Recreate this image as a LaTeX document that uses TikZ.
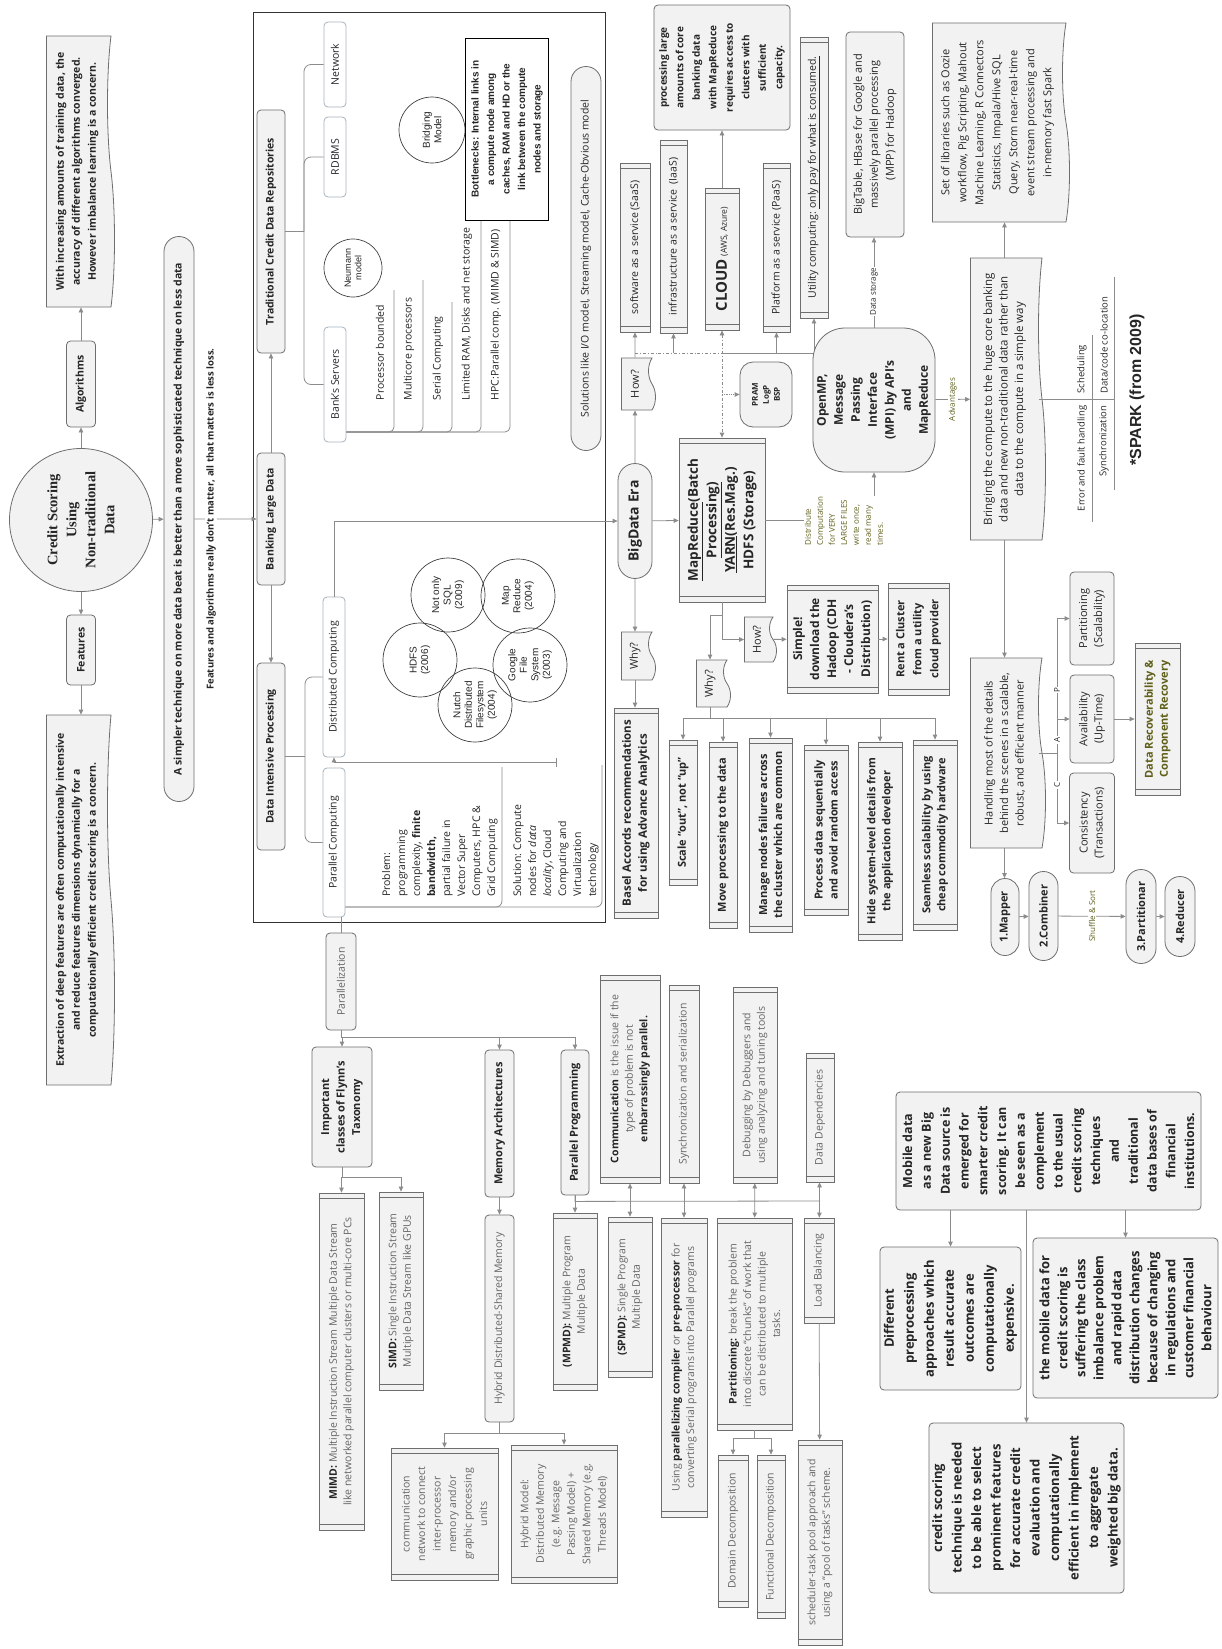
\documentclass[tikz,border=0pt]{standalone}
\usepackage{fontspec}
\setmainfont{Open Sans}
\newfontfamily\serifbold{Liberation Serif}
\newfontfamily\arial{Liberation Sans}
\usetikzlibrary{arrows.meta,shapes.misc,shapes.symbols,calc}
\definecolor{bd}{HTML}{6E6E6E}
\definecolor{fl}{HTML}{F2F2F2}
\definecolor{ln}{HTML}{8C8C8C}
\definecolor{sb}{HTML}{A7B3BE}
\definecolor{gt}{HTML}{666666}
\definecolor{tx}{HTML}{262626}
\definecolor{ol}{HTML}{5F5F1A}
\newcommand{\fsz}[2]{\fontsize{#1}{#2}\selectfont}

\begin{document}
\begin{tikzpicture}[x=1pt, y=-1pt,
	every node/.style={rotate=90, inner sep=1.5pt, text=tx, align=center,
		font=\fsz{10.5}{14.5}},
	wh/.style 2 args={minimum height=#1pt, minimum width=#2pt},
	box/.style={rectangle, rounded corners=4pt, draw=bd, fill=fl, line width=0.8pt},
	sub/.style={rectangle, rounded corners=4pt, draw=sb, fill=white, line width=0.8pt},
	pill/.style={rounded rectangle, draw=bd, fill=fl, line width=0.8pt},
	pbox/.style={rectangle, draw=bd, fill=fl, line width=0.8pt},
	doc/.style={tape, tape bend top=none, tape bend bottom=in and out,
		tape bend height=7pt, draw=bd, fill=fl, line width=0.8pt},
	ring/.style={circle, draw=black!75, line width=0.7pt},
	note/.style={fill=white, inner sep=1pt},
	gtext/.style={text=gt},
	line/.style={draw=ln, line width=0.8pt},
	arr/.style={line, -{Triangle[length=5pt,width=4.5pt]}},
	arr2/.style={line, {Triangle[length=5pt,width=4.5pt]}-{Triangle[length=5pt,width=4.5pt]}},
	]
	\useasboundingbox (0,0) rectangle (1222,1649);
	\fill[white] (0,0) rectangle (1222,1649);

	% root and first ring
	\node[circle, draw=bd, fill=fl, line width=0.8pt, minimum size=143pt,
		font=\serifbold\fsz{14.5}{19}\bfseries] (title) at (81,520) {Credit Scoring\\Using\\Non-traditional\\Data};
	\node[box, wh={29}{86}, font=\fsz{10.5}{14}\bfseries] (alg) at (81,384) {Algorithms};
	\node[box, wh={29}{70}, font=\fsz{10.5}{14}\bfseries] (feat) at (81,650) {Features};
	\node[doc, wh={68}{271}, font=\fsz{10.5}{16}\bfseries] (withinc) at (77,171.5)
		{With increasing amounts of training data, the\\accuracy of different algorithms converged.\\However imbalance learning is a concern.};
	\node[doc, wh={68}{370}, font=\fsz{10.5}{16}\bfseries] (extract) at (77,900)
		{Extraction of deep features are often computationally intensive\\and reduce features dimensions dynamically for a\\computationally efficient credit scoring is a concern.};
	\node[pill, wh={30}{568}, font=\fsz{10.5}{14}\bfseries] (simpler) at (179,519)
		{A simpler technique on more data beat is better than a more sophisticated technique on less data};

	\path[arr] (title) -- (alg);
	\path[arr] (alg.east) -- (alg.east |- withinc.west);
	\path[arr] (title) -- (feat);
	\path[arr] (feat.west) -- (feat.west |- extract.east);
	\path[arr] (title) -- (simpler);

	% big frame
	\draw[black!80, line width=0.9pt] (253,12) rectangle (605,922);

	\node[box, wh={28}{132}, font=\fsz{10.5}{14}\bfseries] (bank) at (271,519) {Banking Large Data};
	\node[box, wh={28}{243}, font=\fsz{10.5}{14}\bfseries] (trad) at (271,231.5) {Traditional Credit Data Repositories};
	\node[box, wh={28}{187}, font=\fsz{10.5}{14}\bfseries] (dip) at (271,756.5) {Data Intensive Processing};
	\path[arr] (simpler) -- node[note, pos=0.27, font=\fsz{9.5}{12}\bfseries] (loss)
		{Features and algorithms really don't matter, all that matters is less loss.} (bank);
	\path[arr] (bank) -- (trad);
	\path[arr] (bank) -- (dip);

	\node[sub, wh={22}{115}] (bsrv) at (335,384.5) {Bank's Servers};
	\node[sub, wh={22}{80}] (rdbms) at (335,157) {RDBMS};
	\node[sub, wh={22}{85}] (netw) at (335,64.5) {Network};
	\path[line] (trad.south) -- (304,231.5);
	\path[line, rounded corners=7pt] (netw.north) -| (304,231.5) |- (bsrv.north);
	\path[line, rounded corners=7pt] (rdbms.north) -| (304,231.5);

	\foreach \t/\x/\top [count=\i] in {Processor bounded/380/290, Multicore processors/409/280,
			Serial Computing/438/302, {Limited RAM, Disks and net storage}/467/220,
			{HPC:Parallel comp. (MIMD \& SIMD)}/496/220} {
		\node[anchor=west] (bl\i) at (\x,402) {\t};
		\path[line, rounded corners=5pt] (\x+14,\top) |- (bsrv.south |- 0,432);
	}

	\node[ring, minimum size=58pt, font=\arial\fsz{9}{10.5}] (neum) at (353,268) {Neumann\\model};
	\node[ring, minimum size=66pt, font=\arial\fsz{10}{11.5}] (bridge) at (432,130) {Bridging\\Model};
	\node[rectangle, draw=black, line width=1pt, fill=white, wh={83}{182},
		font=\arial\fsz{10}{15.5}\bfseries] (bneck) at (507,129)
		{Bottlenecks: Internal links in\\a compute node among\\caches, RAM and HD or the\\link between the compute\\nodes and storage};
	\node[pill, wh={30}{387}] (sols) at (586,258.5) {Solutions like I/O model, Streaming model, Cache-Obvious model};

	\node[sub, wh={22}{160}] (dc) at (334,677) {Distributed Computing};
	\node[sub, wh={22}{149}] (pc) at (334,842.5) {Parallel Computing};
	\path[line] (dip.south) -- (305,756.5);
	\path[line, rounded corners=7pt] (dc.north) -| (305,756.5) |- (pc.north);

	\foreach \n/\x/\y/\t in {nosql/448/595/{Not only\\SQL\\(2009)}, mapr/518/596/{Map\\Reduce\\(2004)},
			hdfs/420/660/{HDFS\\(2006)}, gfs/530/665/{Google\\File\\System\\(2003)},
			nutch/475/705/{Nutch\\Distributed\\Filesystem\\(2004)}}
		\node[ring, minimum size=74pt, font=\arial\fsz{10}{11.5}] (\n) at (\x,\y) {\t};

	\node[anchor=west, align=left, inner sep=0pt, font=\fsz{10.5}{15}] (prob) at (440,897)
		{Problem:\\programming\\complexity, \textbf{finite}\\\textbf{bandwidth,}\\partial failure in\\Vector Super\\Computers, HPC \&\\Grid Computing};
	\node[anchor=west, align=left, inner sep=0pt, font=\fsz{10.5}{15}] (solu) at (556,897)
		{Solution: Compute\\nodes for \textit{data}\\\textit{locality}, Cloud\\Computing and\\Virtualization\\technology};
	\path[line, rounded corners=6pt] (502,767) |- (pc.south |- 0,907);
	\path[line, rounded corners=6pt] (602,765) |- (pc.south |- 0,907);
	\coordinate (tick) at (557,762);
	\path[line, {Bar[width=9pt]}-{Triangle[length=5pt,width=4.5pt]}] (tick) -| (dc.west);

	% big data era
	\node[pill, wh={34}{118}, font=\fsz{14}{17}\bfseries] (bde) at (635,521) {BigData Era};
	\path[arr] (dc.east) |- (bde.north);
	\node[doc, wh={34}{52}, font=\fsz{11}{13}] (how1) at (635,384) {How?};
	\node[doc, wh={34}{48}, font=\fsz{11}{13}] (why1) at (635,656) {Why?};
	\node[pbox, wh={44}{210}, font=\fsz{11.5}{16}\bfseries] (basel) at (636,813)
		{Basel Accords recommendations\\for using Advance Analytics};
	\node[pbox, wh={30}{169}] (saas) at (635,247.5) {software as a service (SaaS)};
	\node[pbox, wh={27}{193}] (iaas) at (673.5,236.5) {infrastructure as a service\enspace(IaaS)};
	\node[pbox, wh={34}{142}] (cloud) at (722,259) {{\fsz{15}{17}\bfseries CLOUD} {\fsz{8.5}{10}(AWS, Azure)}};
	\node[pbox, wh={27}{169}] (paas) at (776.5,247.5) {Platform as a service (PaaS)};
	\node[pbox, wh={28}{281}] (util) at (814,177.5) {Utility computing: \underline{only pay for what is consumed.}};
	\node[box, wh={136}{125}, font=\fsz{10}{16.5}\bfseries] (procl) at (722,67.5)
		{processing large\\amounts of core\\banking data\\with MapReduce\\requires access to\\clusters with\\sufficient\\capacity.};
	\node[pbox, wh={86}{164}, font=\fsz{13.5}{18.5}\bfseries] (mr) at (722,520)
		{\underline{MapReduce}(Batch\\\underline{Processing)}\\\underline{YARN}(Res.Mag.)\\HDFS (Storage)};
	\node[rectangle, rounded corners=13pt, draw=bd, fill=fl, line width=0.8pt, wh={52}{65},
		font=\fsz{8}{11}\bfseries] (pram) at (766,394.5) {PRAM\\LogP\\BSP};

	\path[arr] (bde) -- (how1);
	\path[arr] (how1) -- (saas);
	\path[arr] (bde) -- (why1);
	\path[arr] (why1.west) -- (why1.west |- basel.east);
	\path[arr] (bde) -- (mr);
	\path[line, dash dot] (how1.east |- 0,353) -- (722,353);
	\path[line] (722,353) -- (util.west |- 0,353);
	\path[arr] (iaas.west |- 0,353) -- (iaas.west);
	\path[arr] (paas.west |- 0,353) -- (paas.west);
	\path[arr] (util.west |- 0,353) -- (util.west);
	\path[arr2, dash dot] (cloud.west) -- (mr.east);
	\path[arr, densely dotted] (cloud.west |- pram.north) -- (pram.north);
	\path[arr] (cloud) -- (procl);

	\node[rectangle, rounded corners=32pt, draw=bd, fill=fl, line width=0.8pt, wh={122}{144},
		font=\fsz{12}{17}\bfseries] (mpi) at (874,400)
		{OpenMP,\\Message\\Passing\\Interface\\(MPI) by API's\\and\\MapReduce};
	\path[arr] (mr.south) -| (mpi.west);
	\node[note, align=left, text=ol, font=\fsz{8}{12}] (dnote) at (844,521)
		{Distribute\\Computation\\for VERY\\LARGE FILES\\write once,\\read many\\times.};

	\node[box, wh={58}{205}, font=\fsz{11}{16}] (bigt) at (875,134.5)
		{BigTable, HBase for Google and\\massively parallel processing\\(MPP) for Hadoop};
	\path[arr] (mpi.east) -- node[note, pos=0.4, font=\fsz{8}{10}] (dstor) {Data storage} (mpi.east |- bigt.west);

	\node[doc, wh={137}{199}, font=\fsz{11}{17}] (libs) at (997.5,122.5)
		{Set of libraries such as Oozie\\workflow, Pig Scripting, Mahout\\Machine Learning, R Connectors\\Statistics, Impala/Hive SQL\\Query, Storm near-real-time\\event stream processing and\\in-memory fast Spark};
	\node[doc, wh={75}{282}, font=\fsz{11.5}{15.5}] (bring) at (1004.5,399)
		{Bringing the compute to the huge core banking\\data and new non-traditional data rather than\\data to the compute in a simple way};
	\path[arr] (bring.east) -- (bring.east |- libs.west);
	\path[arr] (mpi) -- node[note, text=ol, font=\fsz{8}{10}] (advt) {Advantages} (bring);

	% spark list
	\path[line] (bring.south) -- (1114,399);
	\path[line] (1092,335) -- (1092,522);
	\path[line] (1114,277) -- (1114,490);
	\node[anchor=west, font=\fsz{9.5}{12}] (schd) at (1082,395) {Scheduling};
	\node[anchor=east, font=\fsz{9.5}{12}] (errf) at (1082,404) {Error and fault handling};
	\node[anchor=west, font=\fsz{9.5}{12}] (dcode) at (1104,395) {Data/code co-location};
	\node[anchor=east, font=\fsz{9.5}{12}] (synch) at (1104,404) {Synchronization};
	\node[font=\arial\fsz{16}{19}\bfseries] (spark) at (1137,390) {*SPARK (from 2009)};

	% hadoop branch
	\node[doc, wh={34}{47}, font=\fsz{11}{13}] (why2) at (710,683.5) {Why?};
	\node[doc, wh={32}{45}, font=\fsz{11}{13}] (how2) at (757,639.5) {How?};
	\path[arr] (mr.west) -- ++(0,13) -| (why2.east);
	\path[arr] (mr.west) |- (how2.north);
	\node[pbox, wh={91}{108}, font=\fsz{12}{17}\bfseries] (simple) at (832.5,639)
		{Simple!\\download the\\Hadoop (CDH\\- Cloudera's\\Distribution)};
	\node[pbox, wh={61}{112}, font=\fsz{11}{17}\bfseries] (rent) at (918.5,639)
		{Rent a Cluster\\from a utility\\cloud provider};
	\path[arr] (how2) -- (simple);
	\path[arr] (simple) -- (rent);

	\node[pbox, wh={28}{145}, font=\fsz{11}{14}\bfseries] (c1) at (683,812.5) {Scale ``out'', not ``up''};
	\node[pbox, wh={28}{186}, font=\fsz{11}{14}\bfseries] (c2) at (723,835) {Move processing to the data};
	\node[pbox, wh={43}{194}, font=\fsz{11}{15}\bfseries] (c3) at (770.5,835)
		{Manage nodes failures across\\the cluster which are common};
	\node[pbox, wh={44}{170}, font=\fsz{11}{15}\bfseries] (c4) at (826,830)
		{Process data sequentially\\and avoid random access};
	\node[pbox, wh={44}{198}, font=\fsz{11}{15}\bfseries] (c5) at (880,841)
		{Hide system-level details from\\the application developer};
	\node[pbox, wh={44}{190}, font=\fsz{11}{15}\bfseries] (c6) at (935,835)
		{Seamless scalability by using\\cheap commodity hardware};
	\foreach \n in {c1,c2,c3,c4,c5,c6}
		\path[arr] (why2.west) -- ++(0,11) -| (\n.east);

	% handling and CAP
	\node[doc, wh={75}{190}, font=\fsz{11}{15.5}] (handle) at (1004.5,753)
		{Handling most of the details\\behind the scenes in a scalable,\\robust, and efficient manner};
	\path[arr] (bring.west) -- (handle.east);
	\node[box, wh={44}{93}, font=\fsz{11}{15}] (part) at (1092,618.5) {Partitioning\\(Scalability)};
	\node[box, wh={44}{88}, font=\fsz{11}{15}] (avail) at (1092,719) {Availability\\(Up-Time)};
	\node[box, wh={45}{100}, font=\fsz{11}{15}] (cons) at (1092,823) {Consistency\\(Transactions)};
	\node[pbox, wh={45}{152}, text=ol, font=\fsz{11}{15}\bfseries] (drec) at (1157.5,719)
		{Data Recoverability \&\\Component Recovery};
	\path[line] (handle.south) -- (1057,753);
	\path[arr] (1057,753) |- (part.north);
	\path[arr] (1057,753) |- (avail.north);
	\path[arr] (1057,753) |- (cons.north);
	\node[note, font=\fsz{8}{10}] (lp) at (1057,690) {P};
	\node[note, font=\fsz{8}{10}] (la) at (1057,740) {A};
	\node[note, font=\fsz{8}{10}] (lc) at (1057,785) {C};
	\path[arr] (avail) -- (drec);

	\node[pill, wh={28}{80}, font=\fsz{11}{14}\bfseries] (mapper) at (1005,917) {1.Mapper};
	\node[pill, wh={29}{92}, font=\fsz{11}{14}\bfseries] (comb) at (1043.5,916) {2.Combiner};
	\node[pill, wh={30}{97}, font=\fsz{11}{14}\bfseries] (partr) at (1141,916.5) {3.Partitionar};
	\node[pill, wh={30}{83}, font=\fsz{11}{14}\bfseries] (reduc) at (1180,916.5) {4.Reducer};
	\path[arr] (handle.west) -- (handle.west |- mapper.east);
	\path[arr] (mapper) -- (comb);
	\path[arr] (comb) -- node[note, text=ol, font=\fsz{8}{10}] (shuf) {Shuffle \& Sort} (partr);
	\path[arr] (partr) -- (reduc);

	% mobile data
	\node[box, wh={305}{118}, font=\fsz{12.5}{18.8}\bfseries] (mobile) at (1048.5,1151)
		{Mobile data\\as a new Big\\Data source is\\emerged for\\smarter credit\\scoring. It can\\be seen as a\\complement\\to the usual\\credit scoring\\techniques\\and\\traditional\\data bases of\\financial\\institutions.};
	\node[box, wh={141}{143}, font=\fsz{13}{20}\bfseries] (diff) at (950.5,1318.5)
		{Different\\preprocessing\\approaches which\\result accurate\\outcomes are\\computationally\\expensive.};
	\node[box, wh={185}{160}, font=\fsz{13}{18}\bfseries] (mobd) at (1125.5,1318)
		{the mobile data for\\credit scoring is\\suffering the class\\imbalance problem\\and rapid data\\distribution changes\\because of changing\\in regulations and\\customer financial\\behaviour};
	\node[box, wh={195}{170}, font=\fsz{13}{19.5}\bfseries] (cst) at (1026.5,1508)
		{credit scoring\\technique is needed\\to be able to select\\prominent features\\for accurate credit\\evaluation and\\computationally\\efficient in implement\\to aggregate\\weighted big data.};
	\path[arr] (mobile.west -| diff.east) -- (diff.east);
	\path[arr] (mobile.west -| cst.east) -- (cst.east);
	\path[arr] (mobile.west -| mobd.east) -- (mobd.east);

	% parallelization
	\node[box, wh={30}{97}, gtext] (paral) at (341,981.5) {Parallelization};
	\path[line] (paral.east |- pc.west) -- (paral.east);
	\node[box, wh={60}{120}, font=\fsz{11}{15.5}\bfseries] (flynn) at (342,1107)
		{Important\\classes of Flynn's\\Taxonomy};
	\node[box, wh={29}{147}, font=\fsz{11}{14}\bfseries] (memarch) at (499.5,1123.5) {Memory Architectures};
	\node[box, wh={28}{145}, font=\fsz{11}{14}\bfseries] (parprog) at (575,1122.5) {Parallel Programming};
	\foreach \n in {flynn,memarch,parprog}
		\path[arr] (paral.west) -- ++(0,7) -| (\n.east);

	\node[pbox, wh={45}{337}, gtext] (mimd) at (341.5,1361.5)
		{\textbf{\color{tx}MIMD:} Multiple Instruction Stream Multiple Data Stream\\like networked parallel computer clusters or multi-core PCs};
	\node[pbox, wh={44}{198}, gtext] (simd) at (401,1291)
		{\textbf{\color{tx}SIMD:} Single Instruction Stream\\Multiple Data Stream like GPUs};
	\foreach \n in {mimd,simd}
		\path[arr] (flynn.west) -- ++(0,10) -| (\n.east);

	\node[box, wh={29}{207}, gtext] (hybrid) at (499.5,1318.5) {Hybrid Distributed-Shared Memory};
	\path[arr] (memarch) -- (hybrid);
	\node[pbox, wh={107}{132}, gtext, font=\fsz{10.5}{15.5}] (commnet) at (444.5,1514)
		{communication\\network to connect\\inter-processor\\memory and/or\\graphic processing\\units};
	\node[pbox, wh={106}{138}, gtext, font=\fsz{10.5}{15.5}] (hmodel) at (564,1514)
		{Hybrid Model:\\Distributed Memory\\(e.g. Message\\Passing Model) +\\Shared Memory (e.g.\\Threads Model)};
	\foreach \n in {commnet,hmodel}
		\path[arr] (hybrid.west) -- ++(0,11) -| (\n.east);

	\node[pbox, wh={60}{208}, gtext] (comm) at (630,1079)
		{\textbf{\color{tx}Communication} is the issue if the\\type of problem is not\\\textbf{\color{tx}embarrassingly parallel.}};
	\node[pbox, wh={30}{198}, gtext] (sync) at (684,1084) {Synchronization and serialization};
	\node[pbox, wh={44}{196}, gtext] (debug) at (755,1085)
		{Debugging by Debuggers and\\using analyzing and tuning tools};
	\node[pbox, wh={28}{129}, gtext] (ddep) at (820,1117.5) {Data Dependencies};
	\node[pbox, wh={44}{177}, gtext] (mpmd) at (575,1301.5)
		{\textbf{\color{tx}(MPMD):} Multiple Program\\Multiple Data};
	\node[pbox, wh={44}{160}, gtext] (spmd) at (630,1297)
		{\textbf{\color{tx}(SPMD):} Single Program\\Multiple Data};
	\node[pbox, wh={46}{299}, gtext] (pcomp) at (684,1367.5)
		{Using \textbf{\color{tx}parallelizing compiler} or \textbf{\color{tx}pre-processor} for\\converting Serial programs into Parallel programs};
	\node[pbox, wh={75}{212}, gtext] (partn) at (754.5,1324)
		{\textbf{\color{tx}Partitioning:} break the problem\\into discrete ``chunks'' of work that\\can be distributed to multiple\\tasks.};
	\node[pbox, wh={30}{105}, gtext] (loadb) at (819,1270.5) {Load Balancing};
	\path[line] (parprog.west) -- ++(0,6) -- (ddep.west |- 0,1201);
	\path[arr] (parprog) -- (mpmd);
	\path[arr2] (comm) -- (spmd);
	\path[arr2] (sync) -- (pcomp);
	\path[arr2] (debug) -- (partn);
	\path[arr2] (ddep) -- (loadb);

	\node[pbox, wh={30}{152}, gtext] (domd) at (733,1531) {Domain Decomposition};
	\node[pbox, wh={28}{163}, gtext] (funcd) at (771,1536.5) {Functional Decomposition};
	\foreach \n in {domd,funcd}
		\path[arr] (partn.west) -- ++(0,8) -| (\n.east);
	\node[pbox, wh={44}{205}, gtext] (tpool) at (820,1542.5)
		{scheduler-task pool approach and\\using a ``pool of tasks'' scheme.};
	\path[arr] (loadb) -- (tpool);

	% end bars of the process boxes
	\foreach \n in {saas,iaas,cloud,paas,util,basel,mr,simple,rent,c1,c2,c3,c4,c5,c6,drec,
			mimd,simd,commnet,hmodel,comm,sync,debug,ddep,mpmd,spmd,pcomp,partn,loadb,domd,funcd,tpool}
		\draw[bd, line width=0.8pt] ($(\n.north west)!6pt!(\n.north east)$) -- ($(\n.south west)!6pt!(\n.south east)$)
			($(\n.north east)!6pt!(\n.north west)$) -- ($(\n.south east)!6pt!(\n.south west)$);
\end{tikzpicture}
\end{document}
